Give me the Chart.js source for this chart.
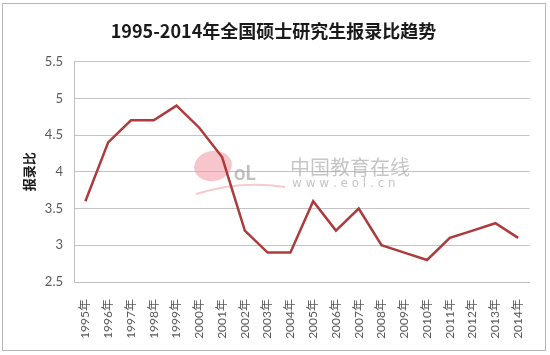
<!DOCTYPE html>
<html lang="zh">
<head>
    <meta charset="UTF-8">
    <title>1995-2014年全国硕士研究生报录比趋势</title>
    <script src="https://cdn.jsdelivr.net/npm/chart.js@4.4.1/dist/chart.umd.min.js"></script>
    <style>
        body { margin: 0; background: #ffffff; }
        #wrap { width: 550px; height: 355px; position: relative; }
    </style>
</head>
<body>
    <div id="wrap">
        <canvas id="canvas" width="550" height="355"></canvas>
    </div>
    <script>
        const years = ['1995年', '1996年', '1997年', '1998年', '1999年', '2000年', '2001年', '2002年', '2003年', '2004年',
            '2005年', '2006年', '2007年', '2008年', '2009年', '2010年', '2011年', '2012年', '2013年', '2014年']
        const ratios = [3.6, 4.4, 4.7, 4.7, 4.9, 4.6, 4.2, 3.2, 2.9, 2.9,
            3.6, 3.2, 3.5, 3.0, 2.9, 2.8, 3.1, 3.2, 3.3, 3.1]
        const chartTitle = '1995-2014年全国硕士研究生报录比趋势'
        const yTitle = '报录比'

        const fontFamily = "Lato, 'Noto Sans CJK SC', sans-serif"

        // outer frame + watermark
        const frame = {
            id: 'frame',
            beforeDraw: (chart) => {
                const ctx = chart.ctx
                ctx.save()
                ctx.fillStyle = '#ffffff'
                ctx.fillRect(0, 0, chart.width, chart.height)
                ctx.strokeStyle = '#b5b5b5'
                ctx.lineWidth = 1
                ctx.strokeRect(2.5, 3.5, 543, 347)
                ctx.restore()
            },
            beforeDatasetsDraw: (chart) => {
                const ctx = chart.ctx
                ctx.save()
                ctx.fillStyle = 'rgba(240,150,160,0.55)'
                ctx.beginPath()
                ctx.ellipse(213, 166, 19, 15, -0.2, 0, Math.PI * 2)
                ctx.fill()
                ctx.strokeStyle = 'rgba(240,150,160,0.5)'
                ctx.lineWidth = 2
                ctx.beginPath()
                ctx.moveTo(196, 194)
                ctx.quadraticCurveTo(240, 180, 285, 187)
                ctx.stroke()
                ctx.fillStyle = 'rgba(150,150,150,0.6)'
                ctx.font = "bold 20px " + fontFamily
                ctx.textBaseline = 'middle'
                ctx.fillText('oL', 234, 174)
                ctx.font = "20px 'Noto Sans CJK SC'"
                ctx.fillStyle = 'rgba(160,160,160,0.6)'
                ctx.fillText('中国教育在线', 290, 167)
                ctx.font = "12px 'DejaVu Sans'"
                ctx.fillText('w w w . e o l . c n', 292, 184)
                ctx.restore()
            }
        }

        new Chart(document.getElementById('canvas').getContext('2d'), {
            type: 'line',
            data: {
                labels: years,
                datasets: [{
                    label: yTitle,
                    data: ratios,
                    borderColor: '#ad3b3b',
                    backgroundColor: '#ad3b3b',
                    borderWidth: 2.5,
                    pointRadius: 0,
                    tension: 0
                }]
            },
            options: {
                responsive: false,
                animation: false,
                layout: { padding: { left: 14, right: 17, top: 0, bottom: 0 } },
                plugins: {
                    legend: { display: false },
                    tooltip: { enabled: false },
                    title: {
                        display: true,
                        text: chartTitle,
                        color: '#1a1a1a',
                        font: { family: "'Noto Sans CJK SC'", size: 18, weight: 'bold' },
                        padding: { top: 20, bottom: 20 }
                    }
                },
                scales: {
                    x: {
                        offset: true,
                        grid: { display: false, drawTicks: false },
                        border: { display: true, color: '#bfbfbf', width: 1 },
                        ticks: {
                            minRotation: 90,
                            maxRotation: 90,
                            autoSkip: false,
                            padding: 17,
                            color: '#595959',
                            font: { family: fontFamily, size: 12 }
                        },
                        afterFit: (scale) => { scale.height = 73 }
                    },
                    y: {
                        min: 2.5,
                        max: 5.5,
                        ticks: {
                            stepSize: 0.5,
                            padding: 11,
                            color: '#595959',
                            font: { family: fontFamily, size: 13 },
                            callback: (v) => String(v)
                        },
                        grid: { color: '#c4c4c4', drawTicks: false },
                        border: { display: true, color: '#bfbfbf', width: 1 },
                        title: {
                            display: true,
                            text: yTitle,
                            color: '#1a1a1a',
                            font: { family: "'Noto Sans CJK SC'", size: 13, weight: 'bold' },
                            padding: { top: 7, bottom: 0 }
                        },
                        afterFit: (scale) => { scale.width = 60 }
                    }
                }
            },
            plugins: [frame]
        })
    </script>
</body>
</html>
